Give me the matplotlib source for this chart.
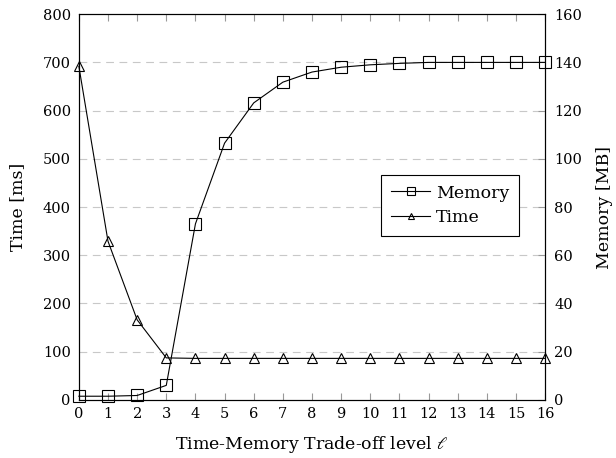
import numpy as np
import matplotlib
matplotlib.use("Agg")
import matplotlib.pyplot as plt

plt.rcParams['font.family'] = ['DejaVu Serif']
plt.rcParams['mathtext.fontset'] = 'dejavuserif'

# données
level = list(range(17))
time_ms = [692, 329, 166, 87, 86, 86, 86, 86, 86, 86, 86, 86, 86, 86, 86, 86, 86]
memory_mb = [1.5, 1.5, 1.8, 6.0, 73, 106.5, 123.2, 131.8, 136, 138, 139, 139.6, 140, 140, 140, 140, 140]

left_ticks = [0, 100, 200, 300, 400, 500, 600, 700, 800]
right_ticks = [0, 20, 40, 60, 80, 100, 120, 140, 160]

fig = plt.figure(figsize=(6.16, 4.58), dpi=100)
ax = fig.add_axes([0.128, 0.127, 0.757, 0.842])
ax2 = ax.twinx()

# grille horizontale
for v in left_ticks[1:-1]:
    ax.axhline(v, color='#c8c8c8', lw=0.8, dashes=(7, 5), zorder=0)

l_mem, = ax2.plot(level, memory_mb, color='black', lw=0.8, marker='s', ms=8.5,
                  mfc='none', mec='black', mew=0.8, clip_on=False, label='Memory')
l_time, = ax.plot(level, time_ms, color='black', lw=0.8, marker='^', ms=6.5,
                  mfc='none', mec='black', mew=0.8, clip_on=False, label='Time')

ax.set_xlim(0, 16)
ax.set_ylim(0, 800)
ax2.set_ylim(0, 160)
ax.set_xticks(level)
ax.set_yticks(left_ticks)
ax2.set_yticks(right_ticks)

ax.tick_params(axis='x', direction='in', length=5, color='#999999', top=True, labelsize=10.5, pad=5.5)
ax.tick_params(axis='y', direction='in', length=0, labelsize=10.5, pad=5.8)
ax2.tick_params(axis='y', direction='in', length=5, color='#999999', labelsize=10.5, pad=6.5)

for a in (ax, ax2):
    for s in a.spines.values():
        s.set_linewidth(0.8)
        s.set_color('black')

ax.set_xlabel(r"Time-Memory Trade-off level $\ell$", fontsize=12.5, labelpad=9)
ax.set_ylabel("Time [ms]", fontsize=12.5, labelpad=12)
ax2.set_ylabel("Memory [MB]", fontsize=12.5, labelpad=10)

leg = ax2.legend(handles=[l_mem, l_time], loc='upper left', bbox_to_anchor=(0.648, 0.583),
                 borderaxespad=0, fontsize=12.5, fancybox=False, framealpha=1, edgecolor='black',
                 handlelength=2.3, borderpad=0.55, labelspacing=0.45, handletextpad=0.3,
                 markerscale=0.75)
leg.get_frame().set_linewidth(0.8)

fig.savefig("out.png", dpi=100)
